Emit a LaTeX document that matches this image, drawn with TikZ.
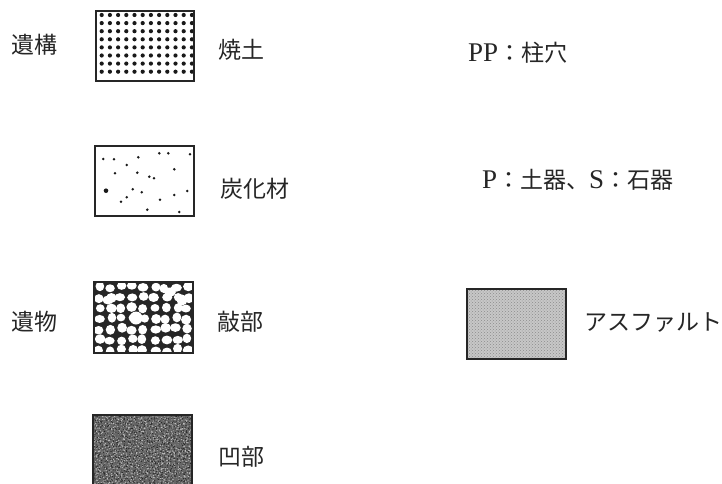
\documentclass[tikz,border=0pt]{standalone}
\usepackage{fontspec}
\setmainfont{Liberation Serif}
\newfontfamily\cjk{Noto Sans CJK JP}
\usetikzlibrary{patterns}

\begin{document}
\begin{tikzpicture}[x=1pt,y=-1pt,
    lab/.style={anchor=west,inner sep=0pt,text=black!85,font=\fontsize{23}{23}\selectfont},
    box/.style={draw=black!85,line width=1.4pt}]
  \clip (0,0) rectangle (722,484);
  \fill[white] (0,0) rectangle (722,484);
  % labels
  \node[lab] (ikou) at (11,45) {\cjk 遺構};
  \node[lab] (ibutsu) at (11,322) {\cjk 遺物};
  \node[lab] (shoudo) at (218,50) {\cjk 焼土};
  \node[lab] (tanka) at (220,189) {\cjk 炭化材};
  \node[lab] (kou) at (217,322) {\cjk 敲部};
  \node[lab] (ou) at (218,457) {\cjk 凹部};
  \node[lab] (pp) at (468,53) {{\fontsize{27}{27}\selectfont PP}{\cjk ：柱穴}};
  \node[lab] (ps) at (482,180) {{\fontsize{27}{27}\selectfont P}{\cjk ：土器、}{\fontsize{27}{27}\selectfont S}{\cjk ：石器}};
  \node[lab] (asph) at (584,323) {\cjk アスファルト};
  % 焼土
  \foreach \i in {0,...,11}
    \foreach \j in {0,...,7}
      \fill[black!90] ({101.7+\i*8.2},{15+\j*8.1}) circle (2.1pt);
  \draw[box] (96,11) rectangle (194,81);
  % 炭化材
  \foreach \p in {(103.3,159),(114,159.3),(138.3,157.3),(159.3,153.3),(168.3,153.3),
      (190,154.3),(126.7,165),(174.3,169.3),(115,173.3),(137.3,172.7),(149.3,176.7),
      (154,178.3),(132.7,189.3),(141.7,192.3),(187.3,191),(174.3,195),(126.7,197.3),
      (121,201.7),(160,199.7),(147.3,209.7),(179.3,212)}
    \fill[black!90] \p circle (1.4pt);
  \fill[black!90] (106,190.7) circle (2.3pt);
  \draw[box] (95,146) rectangle (194,216);
  % 敲部
  \begin{scope}
    \clip (94,282) rectangle (193,353);
    \fill[black!85] (94,282) rectangle (193,353);
    \pgfmathsetseed{7}
    \foreach \i in {0,...,8}
      \foreach \j in {0,...,6}
        \fill[white] ({99.5+\i*11+1.8*rand},{287+\j*10.5+1.5*rand})
          ellipse ({4.2+1.3*rnd} and {3.8+1.2*rnd});
    \fill[white] (136,318) circle (6.5pt) (170,292) ellipse (6pt and 4.5pt)
      (108,300) ellipse (5.5pt and 4.5pt) (182,300) circle (5.5pt);
  \end{scope}
  \draw[box] (94,282) rectangle (193,353);
  % 凹部
  \begin{scope}
    \clip (93,415) rectangle (192,490);
    \fill[black!60] (93,415) rectangle (192,490);
    \pgfmathsetseed{3}
    \fill[white!75!black] \foreach \i in {0,...,39} {\foreach \j in {0,...,29}
      {({93+\i*2.5+1.3*rand},{415+\j*2.5+1.3*rand}) circle (0.65pt)}};
    \fill[black!85] \foreach \i in {0,...,39} {\foreach \j in {0,...,29}
      {({93+\i*2.5+1.3*rand},{415+\j*2.5+1.3*rand}) circle (0.6pt)}};
  \end{scope}
  \draw[box] (93,490) -- (93,415) -- (192,415) -- (192,490);
  % アスファルト
  \fill[black!22] (467,289) rectangle (566,359);
  \fill[pattern=crosshatch dots,pattern color=black!45] (467,289) rectangle (566,359);
  \draw[box] (467,289) rectangle (566,359);
\end{tikzpicture}
\end{document}
